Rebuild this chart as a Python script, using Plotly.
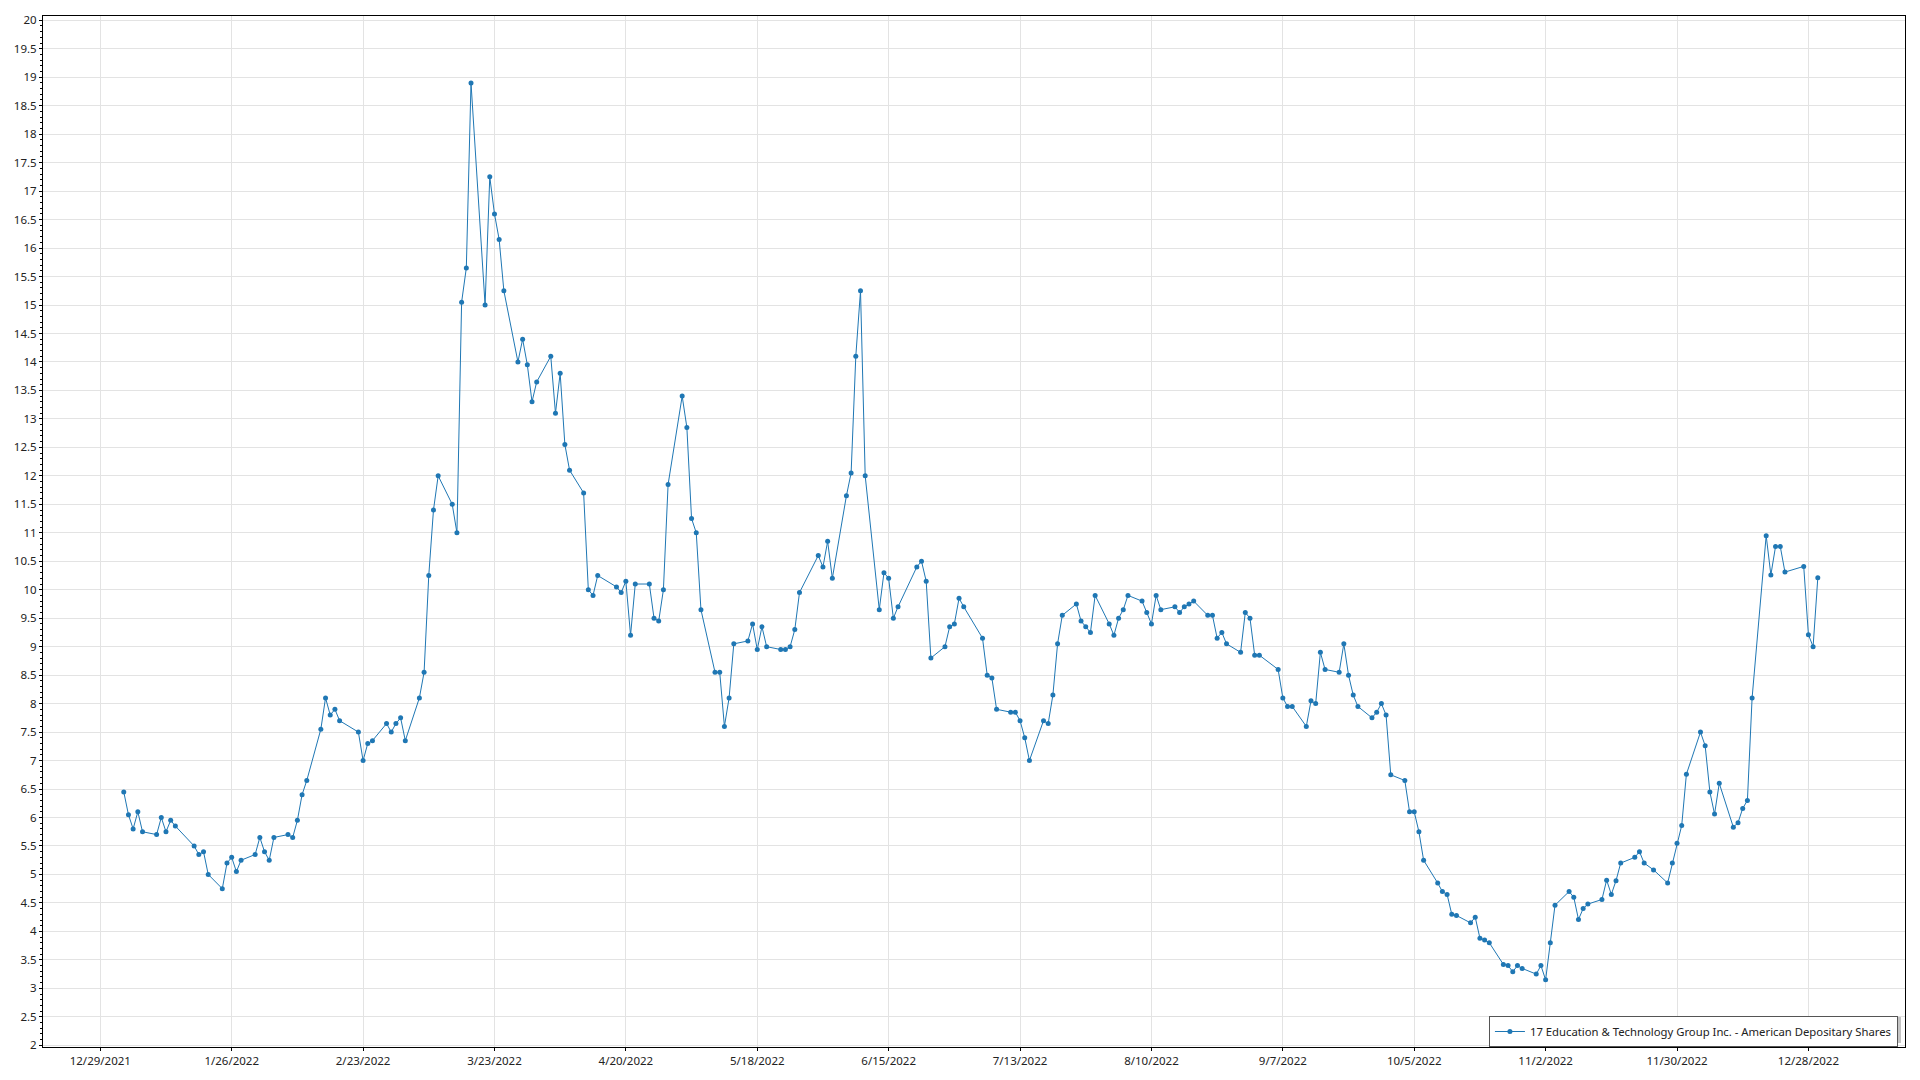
import plotly.graph_objects as go

series_name = "17 Education & Technology Group Inc. - American Depositary Shares"

trade_dates = [
    # Jan
    "2022-01-03", "2022-01-04", "2022-01-05", "2022-01-06", "2022-01-07",
    "2022-01-10", "2022-01-11", "2022-01-12", "2022-01-13", "2022-01-14",
    "2022-01-18", "2022-01-19", "2022-01-20", "2022-01-21",
    "2022-01-24", "2022-01-25", "2022-01-26", "2022-01-27", "2022-01-28",
    "2022-01-31",
    # Feb
    "2022-02-01", "2022-02-02", "2022-02-03", "2022-02-04",
    "2022-02-07", "2022-02-08", "2022-02-09", "2022-02-10", "2022-02-11",
    "2022-02-14", "2022-02-15", "2022-02-16", "2022-02-17", "2022-02-18",
    "2022-02-22", "2022-02-23", "2022-02-24", "2022-02-25",
    "2022-02-28",
    # Mar
    "2022-03-01", "2022-03-02", "2022-03-03", "2022-03-04",
    "2022-03-07", "2022-03-08", "2022-03-09", "2022-03-10", "2022-03-11",
    "2022-03-14", "2022-03-15", "2022-03-16", "2022-03-17", "2022-03-18",
    "2022-03-21", "2022-03-22", "2022-03-23", "2022-03-24", "2022-03-25",
    "2022-03-28", "2022-03-29", "2022-03-30", "2022-03-31",
    # Apr
    "2022-04-01",
    "2022-04-04", "2022-04-05", "2022-04-06", "2022-04-07", "2022-04-08",
    "2022-04-11", "2022-04-12", "2022-04-13", "2022-04-14",
    "2022-04-18", "2022-04-19", "2022-04-20", "2022-04-21", "2022-04-22",
    "2022-04-25", "2022-04-26", "2022-04-27", "2022-04-28", "2022-04-29",
    # May
    "2022-05-02", "2022-05-03", "2022-05-04", "2022-05-05", "2022-05-06",
    "2022-05-09", "2022-05-10", "2022-05-11", "2022-05-12", "2022-05-13",
    "2022-05-16", "2022-05-17", "2022-05-18", "2022-05-19", "2022-05-20",
    "2022-05-23", "2022-05-24", "2022-05-25", "2022-05-26", "2022-05-27",
    "2022-05-31",
    # Jun
    "2022-06-01", "2022-06-02", "2022-06-03",
    "2022-06-06", "2022-06-07", "2022-06-08", "2022-06-09", "2022-06-10",
    "2022-06-13", "2022-06-14", "2022-06-15", "2022-06-16", "2022-06-17",
    "2022-06-21", "2022-06-22", "2022-06-23", "2022-06-24",
    "2022-06-27", "2022-06-28", "2022-06-29", "2022-06-30",
    # Jul
    "2022-07-01",
    "2022-07-05", "2022-07-06", "2022-07-07", "2022-07-08",
    "2022-07-11", "2022-07-12", "2022-07-13", "2022-07-14", "2022-07-15",
    "2022-07-18", "2022-07-19", "2022-07-20", "2022-07-21", "2022-07-22",
    "2022-07-25", "2022-07-26", "2022-07-27", "2022-07-28", "2022-07-29",
    # Aug
    "2022-08-01", "2022-08-02", "2022-08-03", "2022-08-04", "2022-08-05",
    "2022-08-08", "2022-08-09", "2022-08-10", "2022-08-11", "2022-08-12",
    "2022-08-15", "2022-08-16", "2022-08-17", "2022-08-18", "2022-08-19",
    "2022-08-22", "2022-08-23", "2022-08-24", "2022-08-25", "2022-08-26",
    "2022-08-29", "2022-08-30", "2022-08-31",
    # Sep
    "2022-09-01", "2022-09-02",
    "2022-09-06", "2022-09-07", "2022-09-08", "2022-09-09",
    "2022-09-12", "2022-09-13", "2022-09-14", "2022-09-15", "2022-09-16",
    "2022-09-19", "2022-09-20", "2022-09-21", "2022-09-22", "2022-09-23",
    "2022-09-26", "2022-09-27", "2022-09-28", "2022-09-29", "2022-09-30",
    # Oct
    "2022-10-03", "2022-10-04", "2022-10-05", "2022-10-06", "2022-10-07",
    "2022-10-10", "2022-10-11", "2022-10-12", "2022-10-13", "2022-10-14",
    "2022-10-17", "2022-10-18", "2022-10-19", "2022-10-20", "2022-10-21",
    "2022-10-24", "2022-10-25", "2022-10-26", "2022-10-27", "2022-10-28",
    "2022-10-31",
    # Nov
    "2022-11-01", "2022-11-02", "2022-11-03", "2022-11-04",
    "2022-11-07", "2022-11-08", "2022-11-09", "2022-11-10", "2022-11-11",
    "2022-11-14", "2022-11-15", "2022-11-16", "2022-11-17", "2022-11-18",
    "2022-11-21", "2022-11-22", "2022-11-23", "2022-11-25",
    "2022-11-28", "2022-11-29", "2022-11-30",
    # Dec
    "2022-12-01", "2022-12-02",
    "2022-12-05", "2022-12-06", "2022-12-07", "2022-12-08", "2022-12-09",
    "2022-12-12", "2022-12-13", "2022-12-14", "2022-12-15", "2022-12-16",
    "2022-12-19", "2022-12-20", "2022-12-21", "2022-12-22", "2022-12-23",
    "2022-12-27", "2022-12-28", "2022-12-29", "2022-12-30",
]

close_prices = [
    # Jan
    6.45, 6.05, 5.80, 6.10, 5.75,
    5.70, 6.00, 5.75, 5.95, 5.85,
    5.50, 5.35, 5.40, 5.00,
    4.75, 5.20, 5.30, 5.05, 5.25,
    5.35,
    # Feb
    5.65, 5.40, 5.25, 5.65,
    5.70, 5.65, 5.95, 6.40, 6.65,
    7.55, 8.10, 7.80, 7.90, 7.70,
    7.50, 7.00, 7.30, 7.35,
    7.65,
    # Mar
    7.50, 7.65, 7.75, 7.35,
    8.10, 8.55, 10.25, 11.40, 12.00,
    11.50, 11.00, 15.05, 15.65, 18.90,
    15.00, 17.25, 16.60, 16.15, 15.25,
    14.00, 14.40, 13.95, 13.30,
    # Apr
    13.65,
    14.10, 13.10, 13.80, 12.55, 12.10,
    11.70, 10.00, 9.90, 10.25,
    10.05, 9.95, 10.15, 9.20, 10.10,
    10.10, 9.50, 9.45, 10.00, 11.85,
    # May
    13.40, 12.85, 11.25, 11.00, 9.65,
    8.55, 8.55, 7.60, 8.10, 9.05,
    9.10, 9.40, 8.95, 9.35, 9.00,
    8.95, 8.95, 9.00, 9.30, 9.95,
    10.60,
    # Jun
    10.40, 10.85, 10.20,
    11.65, 12.05, 14.10, 15.25, 12.00,
    9.65, 10.30, 10.20, 9.50, 9.70,
    10.40, 10.50, 10.15, 8.80,
    9.00, 9.35, 9.40, 9.85,
    # Jul
    9.70,
    9.15, 8.50, 8.45, 7.90,
    7.85, 7.85, 7.70, 7.40, 7.00,
    7.70, 7.65, 8.15, 9.05, 9.55,
    9.75, 9.45, 9.35, 9.25, 9.90,
    # Aug
    9.40, 9.20, 9.50, 9.65, 9.90,
    9.80, 9.60, 9.40, 9.90, 9.65,
    9.70, 9.60, 9.70, 9.75, 9.80,
    9.55, 9.55, 9.15, 9.25, 9.05,
    8.90, 9.60, 9.50,
    # Sep
    8.85, 8.85,
    8.60, 8.10, 7.95, 7.95,
    7.60, 8.05, 8.00, 8.90, 8.60,
    8.55, 9.05, 8.50, 8.15, 7.95,
    7.75, 7.85, 8.00, 7.80, 6.75,
    # Oct
    6.65, 6.10, 6.10, 5.75, 5.25,
    4.85, 4.70, 4.65, 4.30, 4.28,
    4.15, 4.25, 3.88, 3.85, 3.80,
    3.42, 3.40, 3.29, 3.40, 3.35,
    3.25,
    # Nov
    3.40, 3.15, 3.80, 4.46,
    4.70, 4.60, 4.21, 4.40, 4.48,
    4.56, 4.90, 4.65, 4.89, 5.20,
    5.30, 5.40, 5.20, 5.08,
    4.85, 5.20, 5.55,
    # Dec
    5.86, 6.76,
    7.50, 7.26, 6.45, 6.06, 6.60,
    5.83, 5.91, 6.16, 6.30, 8.10,
    10.95, 10.26, 10.76, 10.76, 10.31,
    10.41, 9.21, 9.00, 10.21,
]

line_color = "#1f77b4"
grid_color = "#e3e3e3"
font_family = "Noto Sans, Open Sans, sans-serif"

fig = go.Figure()
fig.add_trace(go.Scatter(
    x=trade_dates,
    y=close_prices,
    mode="lines+markers",
    name=series_name,
    line=dict(color=line_color, width=1),
    marker=dict(color=line_color, size=5),
    showlegend=True,
))

fig.update_layout(
    width=1920,
    height=1080,
    margin=dict(l=43, r=15, t=15, b=30),
    paper_bgcolor="white",
    plot_bgcolor="white",
    font=dict(family=font_family, size=12, color="#222222"),
    showlegend=True,
    legend=dict(
        x=0.9962, y=0.0, xanchor="right", yanchor="bottom",
        bgcolor="white", bordercolor="#555555", borderwidth=1,
        font=dict(size=11.3, color="#222222"),
        itemwidth=30,
    ),
)

# soft drop shadow behind the legend box (drawn under the legend)
fig.add_shape(
    type="rect", xref="paper", yref="paper", layer="above",
    x0=(1492 - 43) / 1862, x1=(1901 - 43) / 1862,
    y0=(1050 - 1046) / 1035, y1=(1050 - 1020) / 1035,
    fillcolor="#c4c4c4", line=dict(width=0),
)

fig.update_xaxes(
    type="date",
    range=["2021-12-16 19:00", "2023-01-17 14:00"],
    tick0="2021-12-29",
    dtick=28 * 86400000,
    tickformat="%-m/%-d/%Y",
    showgrid=True, gridcolor=grid_color, gridwidth=1,
    showline=True, linecolor="black", linewidth=1, mirror=True,
    ticks="outside", ticklen=3, tickcolor="black",
    zeroline=False,
    tickfont=dict(size=11.5, color="#222222"),
)

fig.update_yaxes(
    range=[1.97, 20.075],
    tick0=2, dtick=0.5,
    showgrid=True, gridcolor=grid_color, gridwidth=1,
    showline=True, linecolor="black", linewidth=1, mirror=True,
    ticks="outside", ticklen=3, tickcolor="black",
    minor=dict(dtick=0.1, ticks="outside", ticklen=2, tickcolor="black", showgrid=False),
    zeroline=False,
    tickfont=dict(size=11.5, color="#222222"),
)

fig.write_html(
    "out.html",
    config={"displayModeBar": False},
    post_script="document.body.style.margin='0';",
)
